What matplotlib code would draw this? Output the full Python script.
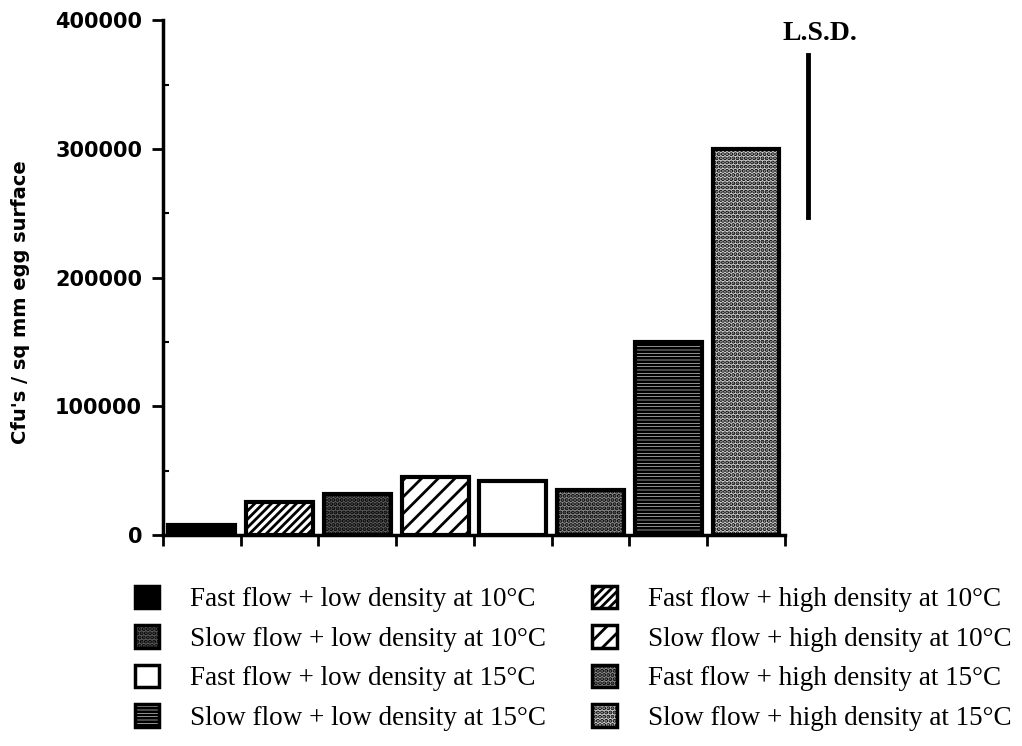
import matplotlib
matplotlib.use("Agg")
import matplotlib.pyplot as plt
from matplotlib.patches import Rectangle
from matplotlib.ticker import MultipleLocator

# bars in plotting order (left to right)
labels = [
    "Fast flow + low density at 10\u00b0C",
    "Fast flow + high density at 10\u00b0C",
    "Slow flow + low density at 10\u00b0C",
    "Slow flow + high density at 10\u00b0C",
    "Fast flow + low density at 15\u00b0C",
    "Fast flow + high density at 15\u00b0C",
    "Slow flow + low density at 15\u00b0C",
    "Slow flow + high density at 15\u00b0C",
]
values = [8000, 26000, 32000, 45000, 42000, 35000, 150000, 300000]
lsd_low, lsd_high = 247000, 373000

faces = ["black", "white", "#5e5e5e", "white", "white", "#8e8e8e", "white", "#d2d2d2"]
hatches = [None, "////", "....", "//", None, "....", "-----", "...."]

fig = plt.figure(figsize=(10.22, 7.46), dpi=100)
ax = fig.add_axes([0.1595, 0.2828, 0.6085, 0.6902])

plt.rcParams["hatch.linewidth"] = 2.0
pos = list(range(len(values)))
bars = ax.bar(pos, values, width=0.86, color=faces, edgecolor="black",
              linewidth=3)
for b, h in zip(bars, hatches):
    if h:
        b.set_hatch(h)

ax.set_xlim(-0.5, 7.5)
ax.set_ylim(0, 400000)
for s in ["top", "right"]:
    ax.spines[s].set_visible(False)
ax.spines["left"].set_linewidth(2.5)
ax.spines["bottom"].set_linewidth(2.5)

ax.set_xticks([p + 0.5 for p in [-1] + pos])
ax.set_xticklabels([])
ax.tick_params(axis="x", direction="out", length=8, width=2)
ax.yaxis.set_major_locator(MultipleLocator(100000))
ax.yaxis.set_minor_locator(MultipleLocator(50000))
ax.tick_params(axis="y", which="major", direction="out", length=8, width=2,
               labelsize=15, pad=7)
ax.tick_params(axis="y", which="minor", direction="in", length=4, width=1.5)
for t in ax.get_yticklabels():
    t.set_fontweight("bold")
ax.set_ylabel("Cfu's / sq mm egg surface", fontsize=14, fontweight="bold")
ax.yaxis.set_label_coords(-0.214, 0.452)

# L.S.D. bar
ax.plot([7.8, 7.8], [lsd_low, lsd_high], color="black", linewidth=3.5,
        clip_on=False)
ax.text(7.95, 380000, "L.S.D.", family="Liberation Serif", fontweight="bold",
        fontsize=20, ha="center", va="bottom")

handles = [Rectangle((0, 0), 1, 1, facecolor=faces[i], edgecolor="black",
                     linewidth=2.5, hatch=hatches[i]) for i in range(8)]
order = [0, 2, 4, 6, 1, 3, 5, 7]
fig.legend([handles[i] for i in order], [labels[i] for i in order],
           loc="upper left", bbox_to_anchor=(0.132, 0.215), ncol=2,
           frameon=False, prop={"family": "Liberation Serif", "size": 19.5},
           handlelength=0.9, handleheight=0.9, handletextpad=1.15,
           columnspacing=1.7, labelspacing=0.48, borderpad=0,
           borderaxespad=0)

fig.savefig("out.png", dpi=100)
